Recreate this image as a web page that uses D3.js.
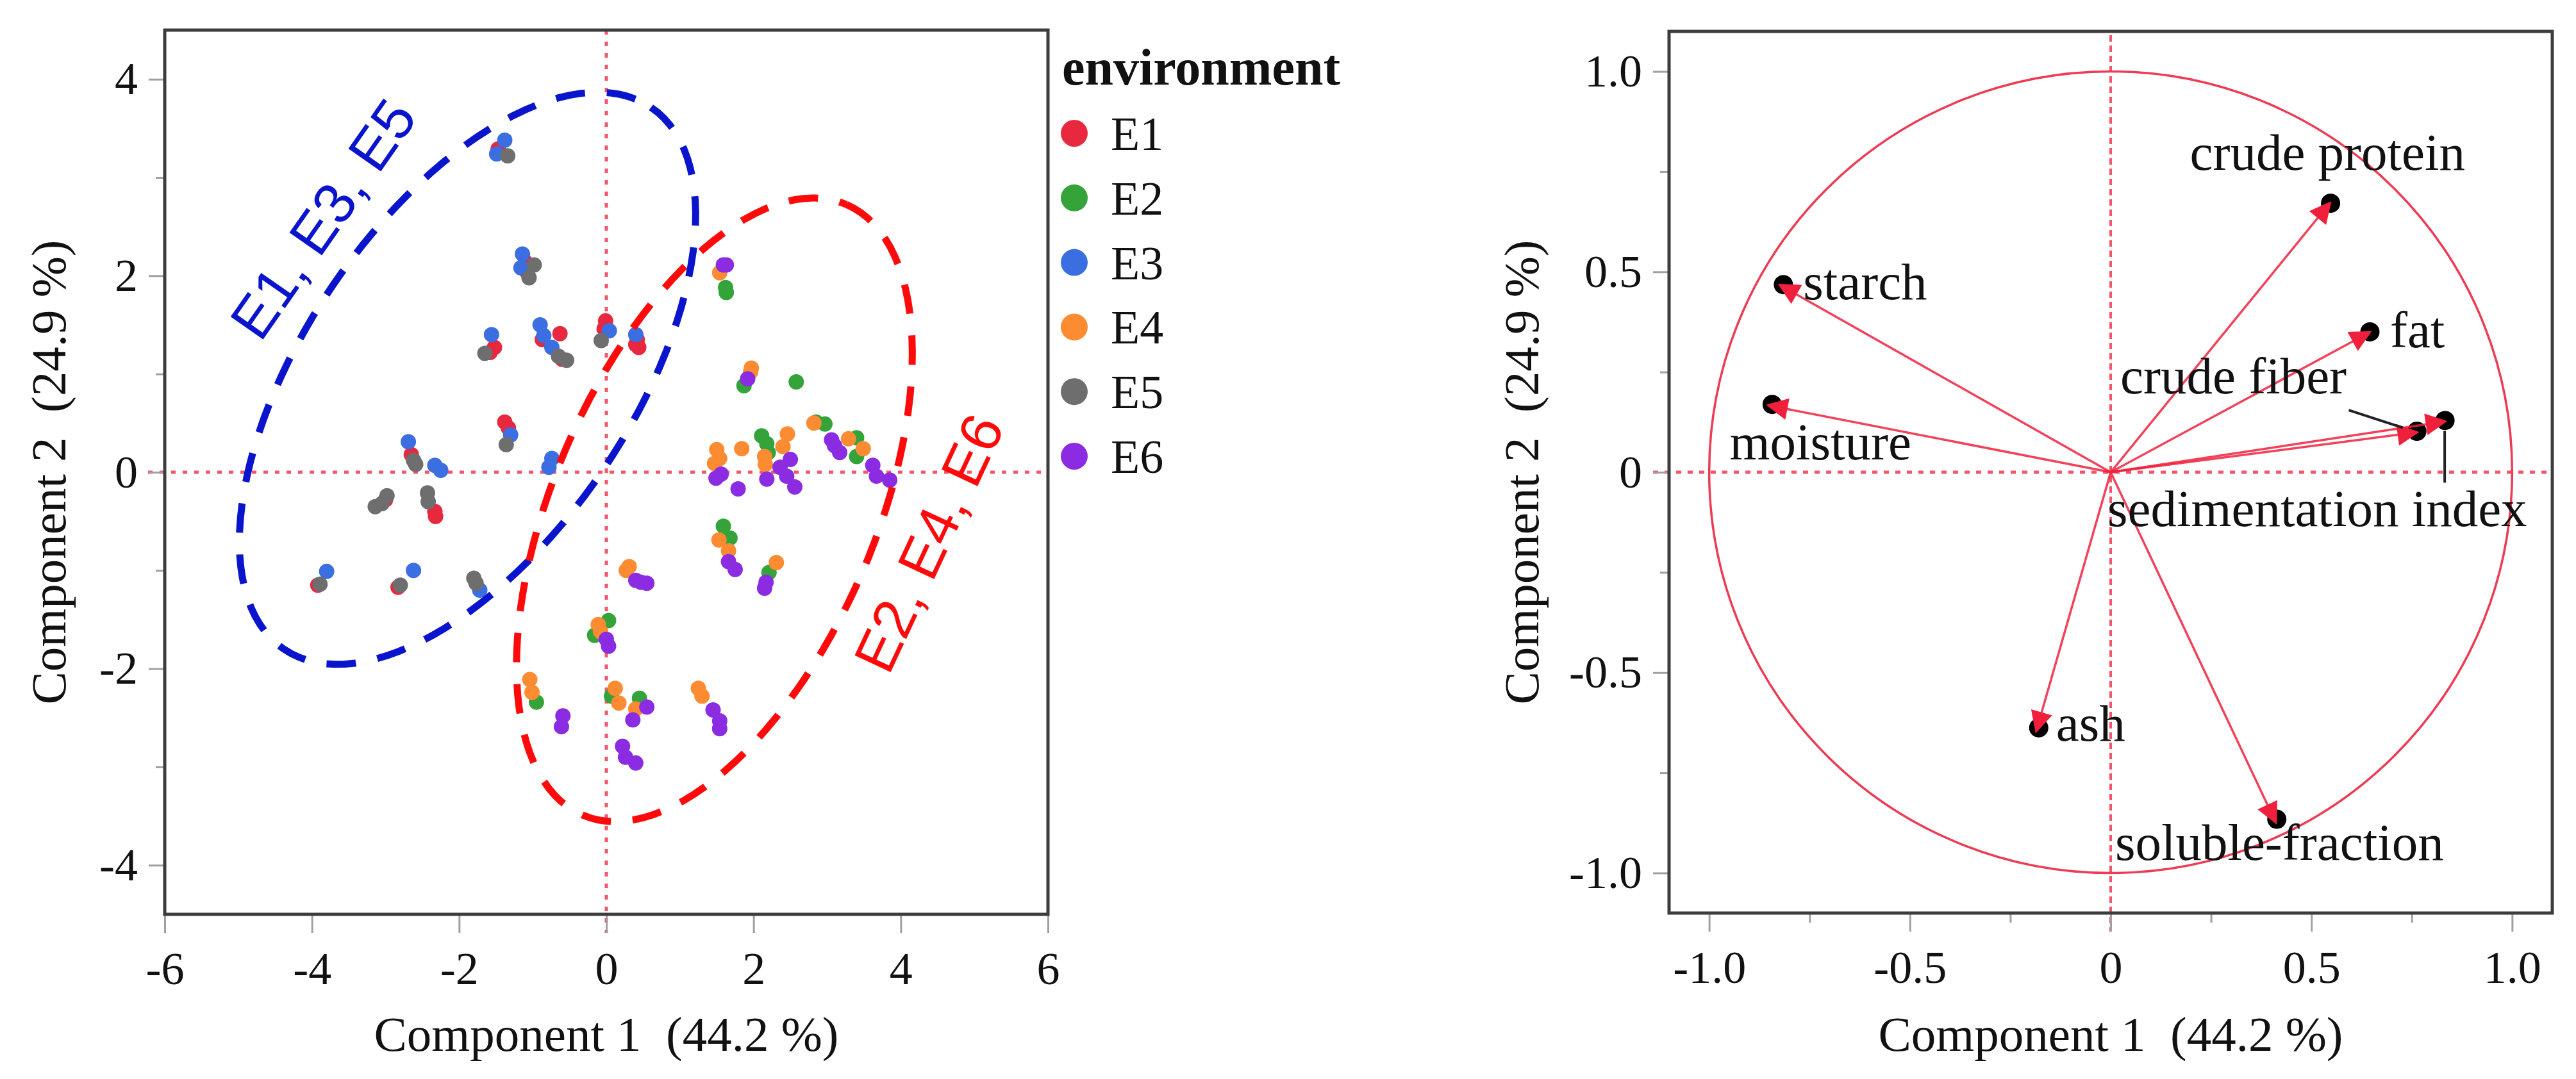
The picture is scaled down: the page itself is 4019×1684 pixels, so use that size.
<!DOCTYPE html>
<html>
<head>
<meta charset="utf-8">
<title>PCA scores and loadings</title>
<script src="https://cdn.jsdelivr.net/npm/d3@7"></script>
<style>
  body { margin: 0; background: #fff; }
  text { font-family: "Liberation Serif", "Times New Roman", serif; }
  text.group-label { font-family: "Liberation Sans", Arial, sans-serif; }
</style>
</head>
<body>
<svg width="4019" height="1684"></svg>
<script>
// environments
const envNames = ["E1", "E2", "E3", "E4", "E5", "E6"];
const envColors = ["#e8283e", "#34a33a", "#3b6ee0", "#fd8b32", "#6e6e6e", "#8b2be2"];

// score plot, [component 1, component 2] per genotype
const scoresE1 = [[-1.47,3.29],[-1.10,2.14],[-1.08,2.04],[-1.52,1.27],[-1.58,1.22],[-0.87,1.35],[-0.63,1.41],
  [-0.60,1.15],[-0.01,1.54],[-0.03,1.46],[0.42,1.35],[0.44,1.27],[0.40,1.30],[-1.38,0.51],[-1.33,0.45],
  [-2.65,0.18],[-3.00,-0.28],[-2.33,-0.40],[-2.32,-0.45],[-3.92,-1.15],[-2.83,-1.17]];
const scoresE2 = [[1.63,1.83],[1.62,1.88],[1.87,0.88],[2.58,0.92],[2.85,0.51],[2.97,0.49],[3.40,0.35],[3.40,0.16],
  [2.11,0.37],[2.18,0.29],[2.20,0.20],[1.59,-0.55],[1.68,-0.67],[2.21,-1.02],[0.03,-1.51],[-0.16,-1.66],
  [-0.95,-2.34],[0.07,-2.28],[0.45,-2.30]];
const scoresE3 = [[-1.38,3.38],[-1.49,3.24],[-1.14,2.22],[-1.16,2.08],[-1.56,1.40],[-0.90,1.50],[-0.85,1.39],
  [-0.74,1.27],[0.04,1.44],[0.40,1.40],[-1.30,0.38],[-2.69,0.31],[-2.33,0.07],[-2.25,0.02],[-0.74,0.14],
  [-0.78,0.05],[-3.80,-1.01],[-2.62,-1.00],[-1.72,-1.20]];
const scoresE4 = [[1.54,2.03],[1.96,1.02],[1.97,1.06],[2.82,0.50],[3.29,0.34],[3.49,0.24],[2.15,0.16],[2.16,0.08],
  [2.46,0.39],[2.40,0.26],[1.50,0.23],[1.54,0.14],[1.47,0.09],[1.84,0.24],[1.53,-0.69],[1.66,-0.80],
  [2.31,-0.92],[0.31,-0.96],[0.27,-1.00],[-0.11,-1.55],[-0.08,-1.62],[-1.04,-2.11],[-1.01,-2.24],
  [0.12,-2.20],[0.17,-2.35],[0.40,-2.41],[1.25,-2.20],[1.30,-2.28]];
const scoresE5 = [[-1.34,3.22],[-0.98,2.11],[-1.05,1.98],[-1.65,1.21],[-0.65,1.18],[-0.54,1.14],[-0.07,1.34],
  [-1.36,0.28],[-2.59,0.08],[-2.62,0.12],[-3.14,-0.35],[-3.05,-0.32],[-2.98,-0.24],[-2.43,-0.21],
  [-2.42,-0.30],[-3.89,-1.14],[-2.80,-1.15],[-1.77,-1.13],[-1.80,-1.08]];
const scoresE6 = [[1.59,2.11],[1.63,2.11],[1.92,0.95],[3.06,0.33],[3.10,0.27],[3.17,0.20],[3.62,0.07],[3.67,-0.04],
  [3.85,-0.08],[2.50,0.13],[2.36,0.05],[2.18,-0.07],[2.56,-0.15],[2.45,-0.04],[1.56,-0.02],[1.49,-0.06],
  [1.79,-0.17],[1.66,-0.91],[1.75,-0.99],[2.15,-1.18],[2.17,-1.12],[0.40,-1.10],[0.55,-1.13],[0.47,-1.12],
  [0.03,-1.77],[0.00,-1.70],[-0.59,-2.48],[-0.61,-2.59],[0.55,-2.39],[0.36,-2.52],[1.45,-2.42],
  [1.54,-2.53],[1.54,-2.61],[0.22,-2.79],[0.26,-2.90],[0.40,-2.96]];

// group ellipses (centre and two half-axis vectors, score units)
const groupNames = ["E1, E3, E5", "E2, E4, E6"];
const groupColors = ["#0a14cc", "#ff0a0a"];
const groupCenter = [[-1.886, 0.956], [1.468, -0.382]];
const groupAxisU = [[2.493, 2.758], [1.794, 3.107]];
const groupAxisV = [[1.842, -0.933], [2.003, -0.648]];
const groupLabelAt = [[-3.85, 2.58], [4.38, -0.72]];
const groupLabelAngle = [-55, -65];

// loading plot
const varNames = ["crude protein", "starch", "fat", "moisture", "crude fiber",
                  "sedimentation index", "ash", "soluble-fraction"];
const loadPC1 = [0.543, -0.820, 0.641, -0.848, 0.758, 0.828, -0.184, 0.409];
const loadPC2 = [0.668, 0.465, 0.347, 0.166, 0.099, 0.126, -0.641, -0.869];
// label anchors, loading units
const labelX = [0.540, -0.766, 0.696, -0.949, 0.024, -0.008, -0.136, 0.011];
const labelY = [0.755, 0.431, 0.311, 0.032, 0.196, -0.135, -0.670, -0.968];
const labelAnchor = ["middle", "start", "start", "start", "start", "start", "start", "start"];

// ticks
const scoreXTicks = [-6, -4, -2, 0, 2, 4, 6];
const scoreYTicks = [-4, -2, 0, 2, 4];
const scoreYMinor = [-3, -1, 1, 3];
const loadTicks = [-1, -0.5, 0, 0.5, 1];
const loadMinor = [-0.75, -0.25, 0.25, 0.75];

const xTitle = "Component 1\u00a0 (44.2 %)";
const yTitle = "Component 2\u00a0 (24.9 %)";

const svg = d3.select("svg");
svg.append("rect").attr("width", 4019).attr("height", 1684).attr("fill", "#fff");

const refColor = "#f2566a";

function axes(g, x, y, xt, xm, yt, ym, fmt) {
  const [x0, x1] = x.range();
  const [yb, yt0] = y.range();

  g.append("g").attr("transform", `translate(0,${yb})`)
    .call(d3.axisBottom(x).tickValues(xt).tickSize(29).tickPadding(29).tickFormat(fmt));
  if (xm) {
    g.append("g").attr("transform", `translate(0,${yb})`)
      .call(d3.axisBottom(x).tickValues(xm).tickSize(15).tickFormat(""));
  }
  g.append("g").attr("transform", `translate(${x0},0)`)
    .call(d3.axisLeft(y).tickValues(yt).tickSize(25).tickPadding(17).tickFormat(fmt));
  g.append("g").attr("transform", `translate(${x0},0)`)
    .call(d3.axisLeft(y).tickValues(ym).tickSize(14).tickFormat(""));

  g.selectAll(".domain").remove();
  g.selectAll(".tick line").attr("stroke", "#a0a0a0").attr("stroke-width", 3);
  g.selectAll(".tick text").attr("font-size", 72).attr("fill", "#111");

  g.append("rect").attr("x", x0).attr("y", yt0)
    .attr("width", x1 - x0).attr("height", yb - yt0)
    .attr("fill", "none").attr("stroke", "#3c3c3c").attr("stroke-width", 5);

  g.append("text").attr("x", (x0 + x1) / 2).attr("y", 1640)
    .attr("text-anchor", "middle").attr("font-size", 77).attr("fill", "#111")
    .text(xTitle);
}

// ---------- left panel: scores ----------
const xS = d3.scaleLinear().domain([-6, 6]).range([257, 1635]);
const yS = d3.scaleLinear().domain([-4.5, 4.5]).range([1427, 47]);
const left = svg.append("g");

// reference lines
left.append("line").attr("x1", xS(-6) - 26).attr("x2", xS(6))
  .attr("y1", yS(0)).attr("y2", yS(0))
  .attr("stroke", refColor).attr("stroke-width", 5).attr("stroke-dasharray", "7 11");
left.append("line").attr("x1", xS(0)).attr("x2", xS(0))
  .attr("y1", yS(4.5)).attr("y2", yS(-4.5) + 29)
  .attr("stroke", refColor).attr("stroke-width", 5).attr("stroke-dasharray", "7 11");

// points
const scoreSets = [scoresE1, scoresE2, scoresE3, scoresE4, scoresE5, scoresE6];
const drawOrder = [0, 2, 4, 1, 3, 5];
drawOrder.forEach(i => {
  left.append("g").selectAll("circle").data(scoreSets[i]).enter().append("circle")
    .attr("cx", d => xS(d[0])).attr("cy", d => yS(d[1])).attr("r", 12)
    .attr("fill", envColors[i]);
});

// group ellipses
const tSteps = d3.range(0, 361, 3).map(a => a * Math.PI / 180);
const ellLine = d3.line().x(d => xS(d[0])).y(d => yS(d[1]));
groupNames.forEach((name, k) => {
  const c = groupCenter[k], u = groupAxisU[k], v = groupAxisV[k];
  const pts = tSteps.map(t => [c[0] + u[0] * Math.cos(t) + v[0] * Math.sin(t),
                               c[1] + u[1] * Math.cos(t) + v[1] * Math.sin(t)]);
  left.append("path").attr("d", ellLine(pts))
    .attr("fill", "none").attr("stroke", groupColors[k])
    .attr("stroke-width", 11).attr("stroke-dasharray", "46 34");
  const lx = xS(groupLabelAt[k][0]), ly = yS(groupLabelAt[k][1]);
  left.append("text").attr("class", "group-label")
    .attr("transform", `translate(${lx},${ly}) rotate(${groupLabelAngle[k]})`)
    .attr("text-anchor", "middle").attr("dy", "0.35em")
    .attr("font-size", 90)
    .attr("fill", groupColors[k]).text(name);
});

axes(left, xS, yS, scoreXTicks, null, scoreYTicks, scoreYMinor, d => String(d));

left.append("text").attr("transform", `translate(102,${yS(0)}) rotate(-90)`)
  .attr("text-anchor", "middle").attr("font-size", 77).attr("fill", "#111").text(yTitle);

// legend
const legend = svg.append("g");
legend.append("text").attr("x", 1657).attr("y", 132)
  .attr("font-size", 80).attr("font-weight", "bold").attr("fill", "#111").text("environment");
const item = legend.selectAll("g.item").data(envNames).enter().append("g")
  .attr("class", "item")
  .attr("transform", (d, i) => `translate(0,${208 + i * 100.8})`);
item.append("circle").attr("cx", 1676).attr("r", 21).attr("fill", (d, i) => envColors[i]);
item.append("text").attr("x", 1733).attr("y", 26).attr("font-size", 74)
  .attr("fill", "#111").text(d => d);

// ---------- right panel: loadings ----------
const xL = d3.scaleLinear().domain([-1.1, 1.1]).range([2604, 3982]);
const yL = d3.scaleLinear().domain([-1.1, 1.1]).range([1425, 49]);
const right = svg.append("g");

right.append("line").attr("x1", xL(-1.1) - 25).attr("x2", xL(1.1))
  .attr("y1", yL(0)).attr("y2", yL(0))
  .attr("stroke", refColor).attr("stroke-width", 5).attr("stroke-dasharray", "8 10");
right.append("line").attr("x1", xL(0)).attr("x2", xL(0))
  .attr("y1", yL(1.1) + 6).attr("y2", yL(-1.1) + 29)
  .attr("stroke", refColor).attr("stroke-width", 4).attr("stroke-dasharray", "10 6");

right.append("ellipse").attr("cx", xL(0)).attr("cy", yL(0))
  .attr("rx", xL(1) - xL(0)).attr("ry", yL(0) - yL(1))
  .attr("fill", "none").attr("stroke", "#ee3a52").attr("stroke-width", 3.5);

const defs = svg.append("defs");
defs.append("marker").attr("id", "head")
  .attr("markerUnits", "userSpaceOnUse").attr("viewBox", "0 0 10 10")
  .attr("refX", 8).attr("refY", 5).attr("markerWidth", 40).attr("markerHeight", 34)
  .attr("orient", "auto")
  .append("path").attr("d", "M0,0 L10,5 L0,10 Z").attr("fill", "#f0203c");

const loads = varNames.map((n, i) => ({ name: n, x: loadPC1[i], y: loadPC2[i],
  lx: labelX[i], ly: labelY[i], anchor: labelAnchor[i] }));

right.append("g").selectAll("circle").data(loads).enter().append("circle")
  .attr("cx", d => xL(d.x) + 3).attr("cy", d => yL(d.y) - 2).attr("r", 15).attr("fill", "#000");

right.append("g").selectAll("line").data(loads).enter().append("line")
  .attr("x1", xL(0)).attr("y1", yL(0))
  .attr("x2", d => xL(d.x)).attr("y2", d => yL(d.y))
  .attr("stroke", "#f0203c").attr("stroke-width", 3.5).attr("stroke-opacity", 0.85)
  .attr("marker-end", "url(#head)");

// leader segments for the crowded labels
right.append("line").attr("x1", xL(0.593)).attr("y1", yL(0.155))
  .attr("x2", xL(0.728)).attr("y2", yL(0.111)).attr("stroke", "#222").attr("stroke-width", 4);
right.append("line").attr("x1", xL(0.832)).attr("y1", yL(0.103))
  .attr("x2", xL(0.832)).attr("y2", yL(-0.026)).attr("stroke", "#222").attr("stroke-width", 4);

right.append("g").selectAll("text").data(loads).enter().append("text")
  .attr("x", d => xL(d.lx)).attr("y", d => yL(d.ly))
  .attr("text-anchor", d => d.anchor).attr("font-size", 81).attr("fill", "#111")
  .text(d => d.name);

axes(right, xL, yL, loadTicks, loadMinor, loadTicks, loadMinor,
  d => d === 0 ? "0" : d.toFixed(1));

right.append("text").attr("transform", `translate(2400,${yL(0)}) rotate(-90)`)
  .attr("text-anchor", "middle").attr("font-size", 77).attr("fill", "#111").text(yTitle);
</script>
</body>
</html>
